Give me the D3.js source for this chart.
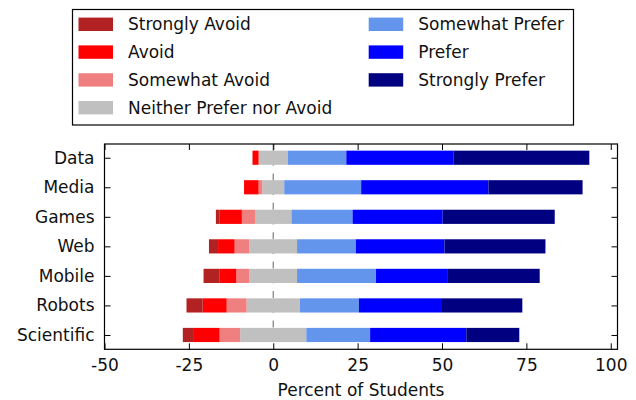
<!DOCTYPE html>
<html>
    <head>
        <meta charset="utf-8">
        <title></title>
        <script src="https://d3js.org/d3.v7.min.js"></script>
        <style>
            body { margin: 0; background: #fff; }
            text { font-family: "DejaVu Sans", sans-serif; fill: #111; }
        </style>
    </head>
    <body>
       <div id="svgcontainer"></div>
       <script>
            var width = 636;
            var height = 400;

            var categories = ["Data", "Media", "Games", "Web", "Mobile", "Robots", "Scientific"];
            var levels = ["Strongly Avoid", "Avoid", "Somewhat Avoid", "Neither Prefer nor Avoid",
                          "Somewhat Prefer", "Prefer", "Strongly Prefer"];
            var colors = ["#b22222", "#ff0000", "#f08080", "#c0c0c0", "#6495ed", "#0000ff", "#000080"];

            // percent of students per level, one array per category row
            var stronglyAvoid  = [0.0, 0.0, 1.0, 2.7, 4.8, 4.8, 3.3];
            var avoid          = [1.8, 4.3, 6.7, 4.9, 4.9, 7.1, 7.6];
            var somewhatAvoid  = [0.0, 1.1, 3.9, 4.4, 3.9, 5.9, 6.1];
            var neither        = [8.7, 6.5, 10.8, 14.1, 14.1, 15.8, 19.6];
            var somewhatPrefer = [17.3, 22.8, 18.1, 17.4, 23.4, 17.5, 18.9];
            var prefer         = [31.7, 37.7, 26.7, 26.3, 21.3, 24.6, 28.5];
            var stronglyPrefer = [40.3, 27.9, 33.2, 29.9, 27.2, 23.8, 15.7];

            var xTicks = [-50, -25, 0, 25, 50, 75, 100];

            var series = [stronglyAvoid, avoid, somewhatAvoid, neither, somewhatPrefer, prefer, stronglyPrefer];

            var plot = {left: 104.5, right: 617.5, top: 144, bottom: 349.3};

            var x = d3.scaleLinear().domain([-50, 102]).range([plot.left, plot.right]);
            var y = d3.scaleLinear().domain([-0.465, 6.485]).range([plot.top, plot.bottom]);
            var barH = y(0.48) - y(0);

            var svg = d3.select("#svgcontainer")
                .append("svg")
                .attr("width", width)
                .attr("height", height);

            // segments: neutral centred on zero, avoid levels going left, prefer levels going right
            var segs = [];
            categories.forEach(function(c, i) {
                var half = neither[i] / 2;
                var l = -half;
                segs.push({row: i, x0: -half, x1: half, k: 3});
                [2, 1, 0].forEach(function(k) {
                    segs.push({row: i, x0: l - series[k][i], x1: l, k: k});
                    l -= series[k][i];
                });
                var r = half;
                [4, 5, 6].forEach(function(k) {
                    segs.push({row: i, x0: r, x1: r + series[k][i], k: k});
                    r += series[k][i];
                });
            });

            // zero line
            svg.append("line")
                .attr("x1", x(0)).attr("x2", x(0))
                .attr("y1", plot.top).attr("y2", plot.bottom)
                .attr("stroke", "#888")
                .attr("stroke-width", 1.3)
                .attr("stroke-dasharray", "7,7.7");

            svg.selectAll(".seg")
                .data(segs.filter(function(d) { return d.x1 > d.x0; }))
                .enter().append("rect")
                .attr("class", "seg")
                .attr("x", function(d) { return x(d.x0); })
                .attr("width", function(d) { return x(d.x1) - x(d.x0); })
                .attr("y", function(d) { return y(d.row) - barH / 2; })
                .attr("height", barH)
                .attr("fill", function(d) { return colors[d.k]; });

            // axes with inward ticks on all four sides
            var tick = 6;
            svg.append("g")
                .attr("transform", "translate(0," + plot.bottom + ")")
                .call(d3.axisBottom(x).tickValues(xTicks).tickSize(-tick).tickPadding(10)
                    .tickFormat(function(d) { return String(d); }))
                .call(function(g) {
                    g.select(".domain").remove();
                    g.selectAll("text").attr("font-size", 17).attr("font-family", "DejaVu Sans").attr("fill", "#111");
                });
            svg.append("g")
                .attr("transform", "translate(0," + plot.top + ")")
                .call(d3.axisTop(x).tickValues(xTicks).tickSize(-tick).tickFormat(""))
                .call(function(g) { g.select(".domain").remove(); });
            svg.append("g")
                .attr("transform", "translate(" + plot.left + ",0)")
                .call(d3.axisLeft(y).tickValues(d3.range(categories.length))
                    .tickFormat(function(i) { return categories[i]; })
                    .tickSize(-tick).tickPadding(10))
                .call(function(g) {
                    g.select(".domain").remove();
                    g.selectAll("text").attr("font-size", 17).attr("font-family", "DejaVu Sans").attr("fill", "#111");
                });
            svg.append("g")
                .attr("transform", "translate(" + plot.right + ",0)")
                .call(d3.axisRight(y).tickValues(d3.range(categories.length)).tickSize(-tick).tickFormat(""))
                .call(function(g) { g.select(".domain").remove(); });

            svg.append("rect")
                .attr("x", plot.left).attr("y", plot.top)
                .attr("width", plot.right - plot.left).attr("height", plot.bottom - plot.top)
                .attr("fill", "none").attr("stroke", "#000").attr("stroke-width", 1.2);

            svg.append("text")
                .attr("x", (plot.left + plot.right) / 2)
                .attr("y", 396)
                .attr("text-anchor", "middle")
                .attr("font-size", 17)
                .text("Percent of Students");

            // legend, two columns
            var legend = svg.append("g");
            legend.append("rect")
                .attr("x", 72.5).attr("y", 9.5).attr("width", 501).attr("height", 115.5)
                .attr("fill", "#fff").attr("stroke", "#000").attr("stroke-width", 1.2);

            var items = legend.selectAll(".item")
                .data(levels)
                .enter().append("g")
                .attr("class", "item")
                .attr("transform", function(d, i) {
                    var col = i < 4 ? 0 : 1;
                    var row = i < 4 ? i : i - 4;
                    return "translate(" + (col === 0 ? 78.5 : 368.7) + "," + (24.3 + row * 27.8) + ")";
                });
            items.append("rect")
                .attr("x", 0).attr("y", -6.7).attr("width", 34.5).attr("height", 13.4)
                .attr("fill", function(d, i) { return colors[i]; });
            items.append("text")
                .attr("x", 49.5).attr("y", 6)
                .attr("font-size", 17)
                .text(function(d) { return d; });
       </script>
    </body>
</html>
